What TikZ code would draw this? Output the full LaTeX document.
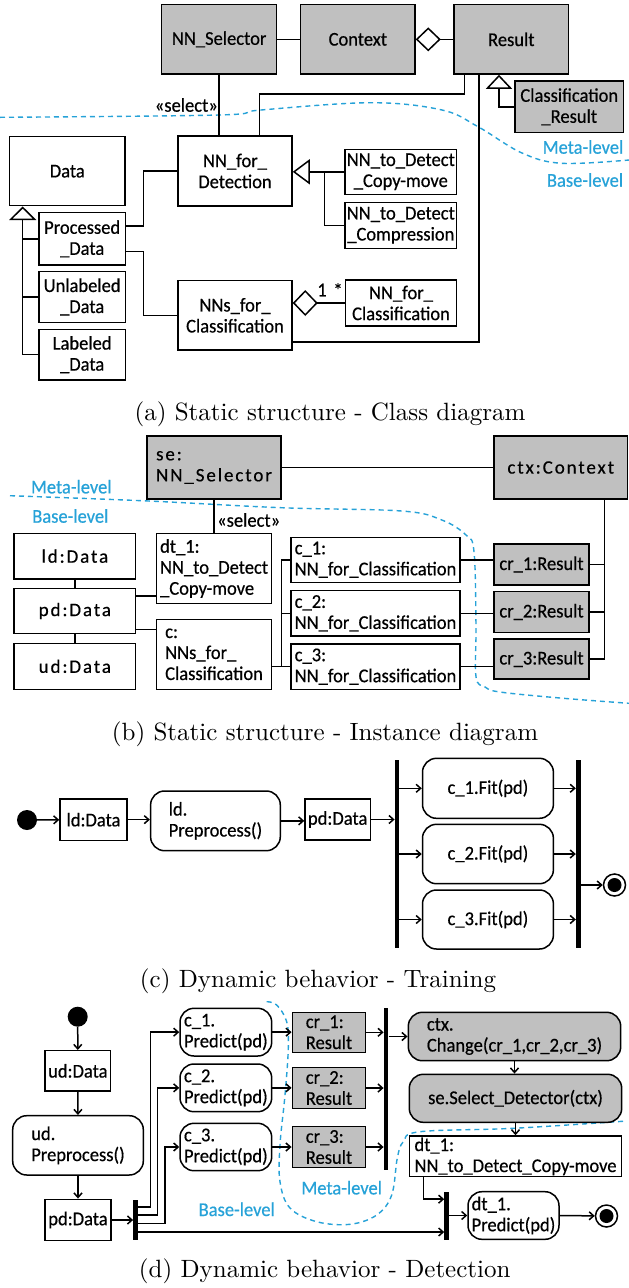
\documentclass[tikz,border=0pt]{standalone}
\usepackage{fontspec}
\usepackage{graphicx}
\usetikzlibrary{arrows.meta}
\newfontfamily\umlf[FakeStretch=0.95,FakeBold=0.5]{Carlito}
\newfontfamily\umlw[LetterSpace=10,FakeBold=0.5]{Carlito}
\definecolor{boxgray}{RGB}{192,192,192}
\definecolor{metablue}{RGB}{38,162,216}
\newcommand\bx[7]{\node[#1, inner sep=0pt, minimum width={((#5)-(#3))*1pt}, minimum height={((#6)-(#4))*1pt}] (#2) at ({((#3)+(#5))/2},{((#4)+(#6))/2}) {#7};}
\newcommand\figcap[4]{\node[anchor=base, inner sep=0pt] (#1) at (#2,#3) {\scalebox{2.5}{\rmfamily\fontsize{10}{12}\selectfont #4}};}
\begin{document}
\begin{tikzpicture}[x=1pt,y=-1pt,
  every node/.append style={font=\umlf\fontsize{19.5}{21}\selectfont},
  box/.style={draw, line width=1.5pt, fill=white, align=center},
  gbox/.style={box, fill=boxgray},
  rbox/.style={box, rounded corners=14pt},
  grbox/.style={rbox, fill=boxgray},
  lft/.style={align=left},
  wide/.style={font=\umlw\fontsize{19}{21}\selectfont},
  bar/.style={fill=black, draw=none},
  ln/.style={line width=1.5pt},
  arr/.style={ln, -{Straight Barb[length=4.5pt,width=8pt]}},
  meta/.style={draw=metablue, line width=1.4pt, dash pattern=on 5pt off 4pt},
  lvl/.style={text=metablue, inner sep=0pt},
  txt/.style={inner sep=0pt},
  gen/.style={ln, -{Triangle[open, length=14pt, width=26pt]}},
  agg/.style={ln, -{Diamond[open, length=25pt, width=24pt]}},
  initst/.style={circle, fill=black, minimum size=20pt, inner sep=0pt},
  finst/.style={circle, draw, line width=1.5pt, minimum size=22pt, inner sep=0pt, path picture={\fill (path picture bounding box.center) circle (7pt);}},
]
\fill[white] (0,0) rectangle (629,1288);
\useasboundingbox (0,0) rectangle (629,1288);

% ---------------- (a) ----------------
\draw[meta] plot[smooth, tension=0.6] coordinates {(0,117.3) (219,115) (261,110) (371,102.7) (442,110) (478,126.7) (522,153) (562,163.3) (629,160)};
\bx{gbox}{sel}{161.6}{4.7}{276.7}{74}{NN\_Selector}
\bx{gbox}{ctx}{300.7}{4.7}{415}{74}{Context}
\bx{gbox}{res}{454}{4.7}{568.6}{74}{Result}
\bx{gbox}{clsres}{515}{81}{623.5}{132.7}{Classification\\\_Result}
\bx{box}{data}{9.6}{136.7}{125}{205.7}{Data}
\bx{box}{nnfd}{178}{136}{292}{206}{NN\_for\_\\Detection}
\bx{box}{cm}{345}{149.3}{456.6}{194.3}{NN\_to\_Detect\\\_Copy-move}
\bx{box}{comp}{345}{202.3}{456.6}{248.3}{NN\_to\_Detect\\\_Compression}
\bx{box}{proc}{39}{212.7}{125.3}{265}{Processed\\\_Data}
\bx{box}{unl}{39}{271.7}{125.3}{322.3}{Unlabeled\\\_Data}
\bx{box}{lab}{39}{329.3}{125.3}{380}{Labeled\\\_Data}
\bx{box}{nnsfc}{178}{280.7}{292}{350}{NNs\_for\_\\Classification}
\bx{box}{nnfc}{345.4}{280}{456.6}{326}{NN\_for\_\\Classification}

\draw[ln] (sel) -- (ctx);
\draw[agg] (res) -- (ctx);
\draw[gen] (clsres.west) -| ([xshift=-12.3pt]res.south);
\draw[ln] (sel.south) -- (nnfd.north -| sel.south);
\node[txt, anchor=east] (sela) at (218,105) {«select»};
\draw[ln] ([xshift=-46.8pt]res.south) -- ++(0,19.3) -| ([xshift=24.5pt]nnfd.north);
\draw[ln] ([xshift=-32.3pt]res.south) |- ([yshift=-26.4pt]nnsfc.east);
\draw[ln, -{Triangle[open,length=17pt,width=25pt]}] (cm.west) -- (cm.west -| nnfd.east);
\draw[ln] (comp.west) -| ([xshift=-20pt]cm.west);
\draw[ln, -{Triangle[open,length=13.6pt,width=27pt]}] (lab.west) -| ([xshift=-44.6pt]data.south);
\draw[ln] (proc.west) -- ++(-16.3,0);
\draw[ln] (unl.west) -- ++(-16.3,0);
\draw[ln] ([yshift=13pt]proc.east) -- ++(17.3,0) |- (nnfd.west);
\draw[ln] ([yshift=-12.8pt]proc.east) -- ++(17.3,0) |- (nnsfc.west);
\draw[ln, -{Diamond[open,length=25pt,width=26pt]}] (nnfc.west) -- (nnfc.west -| nnsfc.east);
\node[txt] (m1) at (322,290) {1};
\node[txt] (mst) at (338,290) {*};
\node[lvl] (ma) at (583,147) {Meta-level};
\node[lvl] (ba) at (585,180) {Base-level};
\figcap{capa}{330}{420.6}{(a) Static structure - Class diagram}

% ---------------- (b) ----------------
\draw[meta] plot[smooth, tension=0.6] coordinates {(10,495.7) (148.6,501) (281,507.7) (401.6,511) (441.8,520) (466,535) (474,551.7) (476,625) (476,676.7) (485,687) (500,692) (560,698) (629,703.3)};
\bx{gbox,wide,lft}{se}{147}{436}{281}{499}{se:\\NN\_Selector}
\bx{gbox,wide}{ctxb}{494}{436}{627.5}{499}{ctx:Context}
\bx{box,wide}{ldb}{14}{533.3}{135.7}{579}{ld:Data}
\bx{box,wide}{pdb}{14}{588.3}{135.7}{633.7}{pd:Data}
\bx{box,wide}{udb}{14}{643.3}{135.7}{689.3}{ud:Data}
\bx{box,lft}{dt1}{156.6}{533.7}{271.5}{603.3}{dt\_1:\\NN\_to\_Detect\\\_Copy-move}
\bx{box,lft}{cb}{156.6}{619.3}{271.5}{689.3}{c:\\NNs\_for\_\\Classification}
\bx{box,lft}{c1}{291}{537.3}{460}{582.3}{c\_1:\\NN\_for\_Classification}
\bx{box,lft}{c2}{291}{590.7}{460}{636}{c\_2:\\NN\_for\_Classification}
\bx{box,lft}{c3}{291}{644}{460}{689.3}{c\_3:\\NN\_for\_Classification}
\bx{gbox}{cr1}{494}{544}{589}{585}{cr\_1:Result}
\bx{gbox}{cr2}{494}{591.7}{589}{632.3}{cr\_2:Result}
\bx{gbox}{cr3}{494}{639}{589}{679}{cr\_3:Result}

\draw[ln] (se) -- (ctxb);
\draw[ln] (se.south) -- (se.south |- dt1.north);
\node[txt, anchor=west] (selb) at (217,520) {«select»};
\draw[ln] (ldb) -- (pdb);
\draw[ln] (pdb) -- (udb);
\draw[ln] ([yshift=15pt]pdb.east) -- ([yshift=15pt]pdb.east -| dt1.west);
\draw[ln] ([yshift=-18.3pt]pdb.east) -- ([yshift=-18.3pt]pdb.east -| cb.west);
\draw[ln] (cb.east |- c3.west) -- (c3.west);
\draw[ln] (c1.west) -- ++(-8.7,0) |- (c3.west);
\draw[ln] (c2.west) -- ++(-8.7,0);
\draw[ln] (c1.east) -- (c1.east -| cr1.west);
\draw[ln] (c2.east) -- (c2.east -| cr2.west);
\draw[ln] (c3.east) -- (c3.east -| cr3.west);
\draw[ln] ([xshift=43.65pt]ctxb.south) |- (cr3.east);
\draw[ln] (cr1.east) -- ++(15.4,0);
\draw[ln] (cr2.east) -- ++(15.4,0);
\node[lvl] (mb) at (71.3,486.7) {Meta-level};
\node[lvl] (bb) at (70.3,516) {Base-level};
\figcap{capb}{325}{740.6}{(b) Static structure - Instance diagram}

% ---------------- (c) ----------------
\node[initst] (ic) at (27,820) {};
\bx{box}{ldc}{60}{799}{127}{840.3}{ld:Data}
\bx{rbox,lft}{prc}{150.6}{791}{280.3}{850.7}{ld.\\Preprocess()}
\bx{box}{pdc}{305}{799}{370.3}{840}{pd:Data}
\bx{bar}{fk1}{394.8}{760}{399.2}{948.3}{}
\bx{rbox}{c1f}{422.5}{758.3}{553.4}{818.3}{c\_1.Fit(pd)}
\bx{rbox}{c2f}{422.5}{824.3}{553.4}{883.7}{c\_2.Fit(pd)}
\bx{rbox}{c3f}{422.5}{890}{553.4}{949}{c\_3.Fit(pd)}
\bx{bar}{jn1}{576}{760}{580.5}{948.3}{}
\node[finst] (fc) at (614.5,885) {};
\draw[arr] (ic) -- (ldc);
\draw[arr] (ldc.east) -- (ldc.east -| prc.west);
\draw[arr] (prc.east) -- (prc.east -| pdc.west);
\draw[arr] (pdc.east) -- (pdc.east -| fk1.west);
\draw[arr] (c1f.west -| fk1.east) -- (c1f.west);
\draw[arr] (c2f.west -| fk1.east) -- (c2f.west);
\draw[arr] (c3f.west -| fk1.east) -- (c3f.west);
\draw[arr] (c1f.east) -- (c1f.east -| jn1.west);
\draw[arr] (c2f.east) -- (c2f.east -| jn1.west);
\draw[arr] (c3f.east) -- (c3f.east -| jn1.west);
\draw[arr] (fc.west -| jn1.east) -- (fc.west);
\figcap{capc}{318}{987.2}{(c) Dynamic behavior - Training}

% ---------------- (d) ----------------
\draw[meta] plot[smooth, tension=0.6] coordinates {(266.7,1001.7) (276.7,1005) (286.7,1021.7) (288.3,1048) (285,1095) (280,1145) (280,1181.7) (290,1208) (316.7,1221.7) (350,1224.3) (376.7,1215) (391.7,1195) (397.3,1158) (403.3,1141.7) (420,1131.7) (513.3,1128.3) (626.7,1121)};
\node[initst] (id) at (77.7,1016.7) {};
\bx{box}{udd}{45}{1050.7}{110.7}{1091}{ud:Data}
\bx{rbox,lft}{prd}{12.7}{1115.7}{143.3}{1175}{ud.\\Preprocess()}
\bx{box}{pdd}{45}{1199.3}{111}{1240.7}{pd:Data}
\bx{bar}{fk2}{133.3}{1200}{137.8}{1240}{}
\bx{rbox,lft}{c1p}{180}{1008.3}{271.7}{1056}{c\_1.\\Predict(pd)}
\bx{rbox,lft}{c2p}{180}{1064}{271.7}{1111.7}{c\_2.\\Predict(pd)}
\bx{rbox,lft}{c3p}{180}{1123.3}{271.7}{1170.7}{c\_3.\\Predict(pd)}
\bx{gbox,lft}{cr1d}{292.3}{1012.3}{365.7}{1052.3}{cr\_1:\\Result}
\bx{gbox,lft}{cr2d}{292.3}{1067.7}{365.7}{1108.3}{cr\_2:\\Result}
\bx{gbox,lft}{cr3d}{292.3}{1126.7}{365.7}{1167.3}{cr\_3:\\Result}
\bx{bar}{jn2}{383.8}{1008.3}{388.3}{1170}{}
\bx{grbox,lft}{ctxd}{408.3}{1012.3}{620.7}{1060.7}{ctx.\\Change(cr\_1,cr\_2,cr\_3)}
\bx{grbox}{sed}{409.3}{1074.3}{621.7}{1122.3}{se.Select\_Detector(ctx)}
\bx{box,lft}{dtd}{409.3}{1136}{621.7}{1176.7}{dt\_1:\\NN\_to\_Detect\_Copy-move}
\bx{bar}{fk3}{444.4}{1192.3}{448.8}{1240}{}
\bx{rbox,lft}{dtp}{468}{1191.7}{559}{1239.3}{dt\_1.\\Predict(pd)}
\node[finst] (fd) at (606.5,1216) {};

\draw[arr] (id) -- (udd);
\draw[arr] (udd) -- (prd);
\draw[arr] (prd) -- (pdd);
\draw[arr] (pdd.east) -- (pdd.east -| fk2.west);
\draw[arr] ([yshift=13pt]fk2.east) -- ++(12.5,0) |- (c1p.west);
\draw[arr] ([yshift=5pt]fk2.east) -- ++(19.5,0) |- (c2p.west);
\draw[arr] ([yshift=-3.3pt]fk2.east) -- ++(27.2,0) |- (c3p.west);
\draw[arr] ([yshift=-12pt]fk2.east) -- ([yshift=-12pt]fk2.east -| fk3.west);
\draw[arr] (c1p.east) -- (c1p.east -| cr1d.west);
\draw[arr] (c2p.east) -- (c2p.east -| cr2d.west);
\draw[arr] (c3p.east) -- (c3p.east -| cr3d.west);
\draw[arr] (cr1d.east) -- (cr1d.east -| jn2.west);
\draw[arr] (cr2d.east) -- (cr2d.east -| jn2.west);
\draw[arr] (cr3d.east) -- (cr3d.east -| jn2.west);
\draw[arr] (ctxd.west -| jn2.east) -- (ctxd.west);
\draw[arr] (ctxd.south) -- (ctxd.south |- sed.north);
\draw[arr] (sed) -- (dtd);
\draw[arr] ([xshift=-92.2pt]dtd.south) |- ([yshift=17pt]fk3.west);
\draw[arr] (dtp.west -| fk3.east) -- (dtp.west);
\draw[arr] (dtp.east) -- (fd);
\node[lvl] (md) at (341.7,1187.7) {Meta-level};
\node[lvl] (bd) at (236.7,1209.3) {Base-level};
\figcap{capd}{324.7}{1277}{(d) Dynamic behavior - Detection}
\end{tikzpicture}
\end{document}
